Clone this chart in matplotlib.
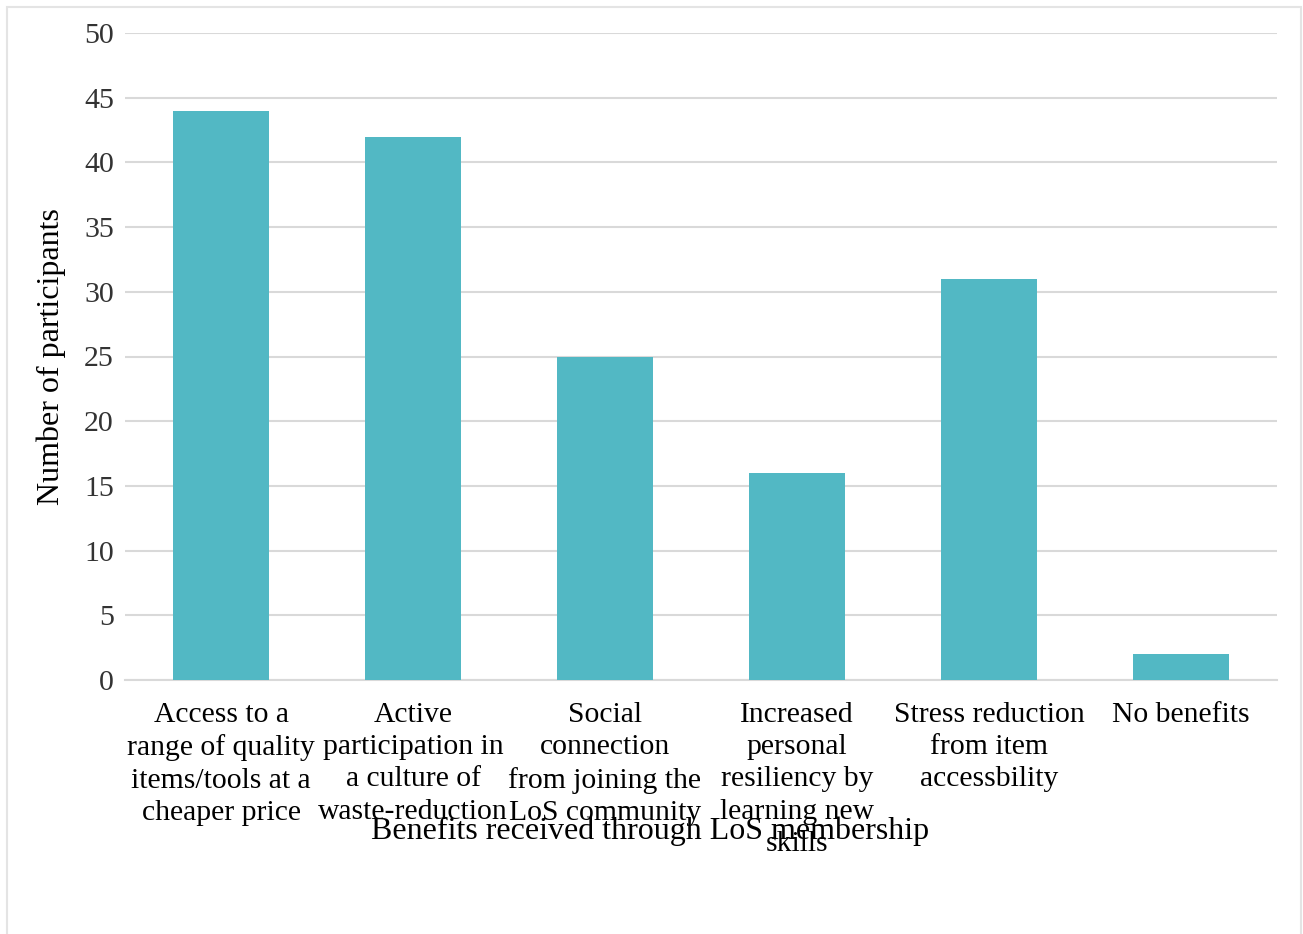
import matplotlib.pyplot as plt
from matplotlib.patches import Rectangle

categories = [
    "Access to a\nrange of quality\nitems/tools at a\ncheaper price",
    "Active\nparticipation in\na culture of\nwaste-reduction",
    "Social\nconnection\nfrom joining the\nLoS community",
    "Increased\npersonal\nresiliency by\nlearning new\nskills",
    "Stress reduction\nfrom item\naccessbility",
    "No benefits",
]
participants = [44, 42, 25, 16, 31, 2]
y_ticks = list(range(0, 51, 5))

plt.rcParams['font.family'] = ['Liberation Serif', 'DejaVu Serif']

W, H = 1303, 934
fig = plt.figure(figsize=(W / 100, H / 100), dpi=100)
ax = fig.add_axes([125 / W, 1 - 680 / H, 1152 / W, 647 / H])

# light frame around the whole chart
fig.patches.append(Rectangle((7 / W, -0.01), 1294 / W, 1 - 7 / H + 0.01,
                             transform=fig.transFigure, fill=False,
                             edgecolor='#E4E4E4', linewidth=1.5))

x = range(len(categories))
ax.bar(x, participants, width=0.5, color='#52B8C4', zorder=3)

ax.set_xlim(-0.5, len(categories) - 0.5)
ax.set_ylim(0, 50)
ax.set_yticks(y_ticks)
ax.yaxis.grid(True, color='#D9D9D9', linewidth=1.5, zorder=0)
ax.set_axisbelow(True)

ax.set_xticks(list(x))
ax.set_xticklabels(categories, fontsize=21.3, linespacing=1.32)
ax.tick_params(axis='x', length=0, pad=15.5)
ax.tick_params(axis='y', length=0, pad=8, labelsize=21.5)
for lbl in ax.get_yticklabels():
    lbl.set_color('#333333')

for s in ['top', 'right', 'left']:
    ax.spines[s].set_visible(False)
ax.spines['bottom'].set_color('#D9D9D9')
ax.spines['bottom'].set_linewidth(1.5)

ax.set_xlabel("Benefits received through LoS membership", fontsize=23)
ax.xaxis.set_label_coords((650 - 125) / 1152, (680 - 817) / 647)
ax.set_ylabel("Number of participants", fontsize=23)
ax.yaxis.set_label_coords((66 - 125) / 1152, 0.5)

fig.savefig("out.png", dpi=100)
